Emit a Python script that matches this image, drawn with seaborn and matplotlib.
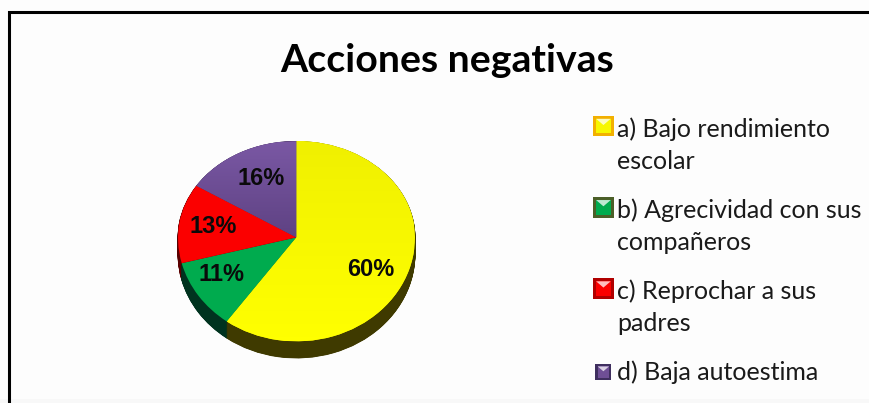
import matplotlib
matplotlib.use("Agg")
import matplotlib.pyplot as plt
import numpy as np
import seaborn as sns
from matplotlib.legend_handler import HandlerBase
from matplotlib.patches import Polygon, Rectangle

categories = ["a) Bajo rendimiento\nescolar", "b) Agrecividad con sus\ncompañeros",
              "c) Reprochar a sus\npadres", "d) Baja autoestima"]
values = [60, 11, 13, 16]
top_colors = ["#f7f700", "#00ab4e", "#fb0000", "#6f4f96"]
side_colors = ["#3f3a00", "#00331f", "#5a0000", "#2a1c3d"]
edge_colors = ["#f2b000", "#4b5f28", "#b00000", "#3f2f5f"]
label_x = [0.63, -0.63, -0.70, -0.30]
label_y = [-0.31, -0.356, 0.115, 0.615]
title = "Acciones negativas"

sns.set_theme(style="white")
plt.rcParams["font.family"] = ["Lato", "DejaVu Sans"]

W, H = 870, 403
fig = plt.figure(figsize=(W / 100, H / 100), dpi=100, facecolor="#fdfdfd")
ax = fig.add_axes([178 / W, 1 - 358 / H, 237 / W, 217 / H])
depth = 0.16

# perspective: the near half of the disc is drawn a little taller than the far half
near, far = 1.08, 1.0
ax.set_yscale("function", functions=(
    lambda y: np.where(y < 0, y * near, y * far),
    lambda y: np.where(y < 0, y / near, y / far),
))

# wall of the disc, then the top face
for y in np.linspace(-depth, 0, 40)[:-1]:
    ws, _ = ax.pie(values, colors=side_colors, startangle=90, counterclock=False, radius=1,
                   center=(0, y), frame=True)
    for w, c in zip(ws, side_colors):
        w.set_edgecolor(c)
        w.set_linewidth(0.6)
wedges, _ = ax.pie(values, colors=top_colors, startangle=90, counterclock=False,
                   radius=1, center=(0, 0), frame=True, wedgeprops=dict(linewidth=0, edgecolor="none"))

# yellow and purple slices carry a soft vertical gradient
grad = np.linspace(0, 1, 64).reshape(-1, 1)
img = ax.imshow(grad, cmap=sns.blend_palette(["#7a58a4", "#5c4080"], as_cmap=True),
                extent=(-1, 1, -0.1, 1.0), aspect="auto", zorder=5)
img.set_clip_path(wedges[3])
img2 = ax.imshow(grad, cmap=sns.blend_palette(["#f0f000", "#ffff00"], as_cmap=True),
                 extent=(-1, 1, -1, 1), aspect="auto", zorder=5)
img2.set_clip_path(wedges[0])

ax.set_xlim(-1, 1)
ax.set_ylim(-1 - depth, 1)
ax.set_aspect("auto")
ax.axis("off")

# data labels
label_font = ["Liberation Sans", "DejaVu Sans"]
for v, x, y in zip(values, label_x, label_y):
    ax.text(x, y, f"{v}%", ha="center", va="center", fontsize=17, fontweight="bold",
            color="#0a0a0a", family=label_font, zorder=6)


class Bevel(HandlerBase):
    def __init__(self, lift, size, inset):
        super().__init__()
        self.lift, self.size, self.inset = lift, size, inset

    def create_artists(self, legend, h, xd, yd, w, ht, fs, trans):
        s = self.size
        x0, y0 = self.inset, self.lift + 6 - s / 2
        b = s * 0.15
        out = Rectangle((x0, y0), s, s, fc=h.get_edgecolor(), ec="none", transform=trans)
        inn = Rectangle((x0 + b, y0 + b), s - 2 * b, s - 2 * b, fc=h.get_facecolor(),
                        ec="none", transform=trans)
        tri = Polygon([(x0 + b, y0 + s - b), (x0 + s - b, y0 + s - b),
                       (x0 + s / 2, y0 + s * 0.55)], fc="#ffffff", alpha=.75, ec="none",
                      transform=trans)
        return [out, inn, tri]


handles = [Rectangle((0, 0), 1, 1, fc=c, ec=e) for c, e in zip(top_colors, edge_colors)]
hmap = {h: (Bevel(14.3, 15, 0) if "\n" in lab else Bevel(0, 11.5, 1.7))
        for h, lab in zip(handles, categories)}
leg = fig.legend(handles, categories, handler_map=hmap, loc="upper left",
                 bbox_to_anchor=(593 / W, 1 - 117 / H), frameon=False, fontsize=18,
                 handlelength=0.74, handletextpad=0.24, labelspacing=1.03,
                 borderpad=0, borderaxespad=0, labelcolor="#1a1a1a")
for t in leg.get_texts():
    t.set_linespacing(1.47)

fig.text(447 / W, 1 - 61 / H, title, ha="center", va="center", fontsize=28.3,
         fontweight="bold", color="#000000")

# faint grey strip at the foot of the picture
fig.add_artist(Rectangle((0, 0), 1, 4 / H, fc="#f8f8f8", ec="none", transform=fig.transFigure))
# outer frame of the picture runs off the right and bottom edges
fig.add_artist(Rectangle((9.5 / W, -0.1), 1.1, 0.1 + 1 - 11.8 / H, fill=False,
                         ec="#000000", lw=2.2, transform=fig.transFigure))
fig.savefig("out.png", dpi=100, facecolor=fig.get_facecolor())
